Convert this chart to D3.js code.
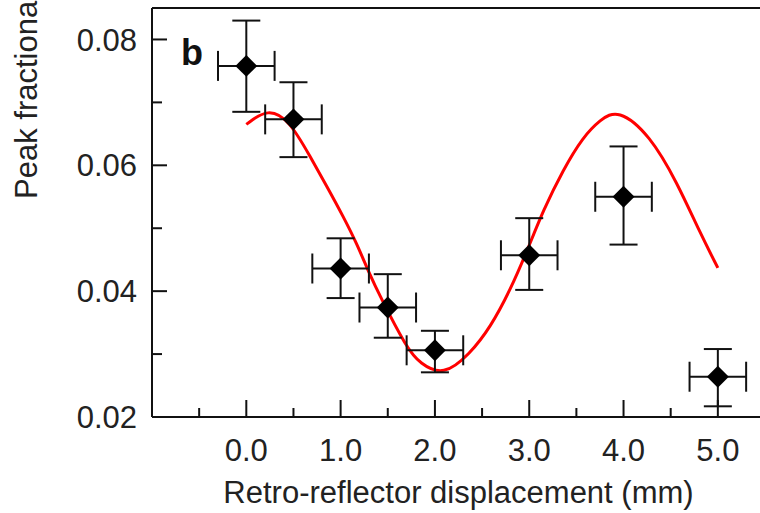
<!DOCTYPE html>
<html>
<head>
<meta charset="utf-8">
<script src="https://cdn.jsdelivr.net/npm/d3@7"></script>
<style>
  body { margin: 0; background: #fff; }
  svg { display: block; font-family: "Liberation Sans", Arial, sans-serif; }
</style>
</head>
<body>
<svg id="chart" width="760" height="513"></svg>
<script>
// measured points (mm, peak fractional value)
var pointX = [0.0, 0.5, 1.0, 1.5, 2.0, 3.0, 4.0, 5.0];
var pointY = [0.0758, 0.0673, 0.0436, 0.0374, 0.0306, 0.0457, 0.0550, 0.0264];
var pointYHi = [0.0830, 0.0732, 0.0484, 0.0427, 0.0337, 0.0516, 0.0630, 0.0308];
var pointYLo = [0.0685, 0.0613, 0.0389, 0.0326, 0.0271, 0.0402, 0.0474, 0.0217];
var pointXErr = [0.3, 0.3, 0.3, 0.3, 0.3, 0.3, 0.3, 0.3];

// red fit curve
var fitX = [0.0, 0.23, 0.46, 0.68, 0.86, 1.03, 1.17, 1.29, 1.42, 1.70, 1.84, 2.09, 2.37, 2.59, 2.80, 2.98, 3.15, 3.36, 3.57, 3.75, 3.94, 4.28, 4.57, 4.81, 5.0];
var fitY = [0.0665, 0.0691, 0.0671, 0.0613, 0.0565, 0.0518, 0.0476, 0.0433, 0.0391, 0.0310, 0.0285, 0.0265, 0.0300, 0.0343, 0.0402, 0.0465, 0.0529, 0.0593, 0.0645, 0.0672, 0.0690, 0.0648, 0.0572, 0.0493, 0.0437];

var xMajor = [0, 1, 2, 3, 4, 5];
var xMinor = [-0.5, 0.5, 1.5, 2.5, 3.5, 4.5];
var yMajor = [0.02, 0.04, 0.06, 0.08];
var yMinor = [0.03, 0.05, 0.07];

function draw() {
  var svg = d3.select('#chart');

  var pl = 152, pr = 765, pt = 8, pb = 417;
  var fs = 31;
  var black = '#111';

  var x = d3.scaleLinear().domain([-1, 5.5]).range([pl, pr]);
  var y = d3.scaleLinear().domain([0.02, 0.085]).range([pb, pt]);

  // frame: left, bottom, top
  svg.append('line').attr('x1', pl).attr('x2', pl).attr('y1', pt).attr('y2', pb)
    .attr('stroke', black).attr('stroke-width', 2);
  svg.append('line').attr('x1', pl).attr('x2', pr).attr('y1', pb).attr('y2', pb)
    .attr('stroke', black).attr('stroke-width', 2);
  svg.append('line').attr('x1', pl).attr('x2', pr).attr('y1', pt).attr('y2', pt)
    .attr('stroke', black).attr('stroke-width', 2);

  // x ticks (pointing inward)
  svg.selectAll('.xmaj').data(xMajor).enter().append('line')
    .attr('x1', function (d) { return x(d); }).attr('x2', function (d) { return x(d); })
    .attr('y1', pb).attr('y2', pb - 17)
    .attr('stroke', black).attr('stroke-width', 2);
  svg.selectAll('.xmin').data(xMinor).enter().append('line')
    .attr('x1', function (d) { return x(d); }).attr('x2', function (d) { return x(d); })
    .attr('y1', pb).attr('y2', pb - 9)
    .attr('stroke', black).attr('stroke-width', 2);
  svg.selectAll('.xlab').data(xMajor).enter().append('text')
    .attr('x', function (d) { return x(d); })
    .attr('y', 461)
    .attr('text-anchor', 'middle')
    .attr('font-size', fs)
    .attr('fill', '#222')
    .text(function (d) { return d3.format('.1f')(d); });

  // y ticks
  svg.selectAll('.ymaj').data(yMajor).enter().append('line')
    .attr('x1', pl).attr('x2', pl + 15)
    .attr('y1', function (d) { return y(d); }).attr('y2', function (d) { return y(d); })
    .attr('stroke', black).attr('stroke-width', 2);
  svg.selectAll('.ymin').data(yMinor).enter().append('line')
    .attr('x1', pl).attr('x2', pl + 10)
    .attr('y1', function (d) { return y(d); }).attr('y2', function (d) { return y(d); })
    .attr('stroke', black).attr('stroke-width', 2);
  svg.selectAll('.ylab').data(yMajor).enter().append('text')
    .attr('x', 137)
    .attr('y', function (d) { return y(d); })
    .attr('dy', '0.36em')
    .attr('text-anchor', 'end')
    .attr('font-size', fs)
    .attr('fill', '#222')
    .text(function (d) { return d3.format('.2f')(d); });

  // axis titles
  svg.append('text')
    .attr('x', (pl + pr) / 2)
    .attr('y', 503)
    .attr('text-anchor', 'middle')
    .attr('font-size', fs)
    .attr('fill', '#222')
    .text('Retro-reflector displacement (mm)');

  svg.append('text')
    .attr('transform', 'translate(37,199) rotate(-90)')
    .attr('font-size', fs)
    .attr('fill', '#222')
    .text('Peak fractiona');

  svg.append('text')
    .attr('x', 181)
    .attr('y', 65)
    .attr('font-size', 36)
    .attr('font-weight', 'bold')
    .attr('fill', black)
    .text('b');

  // fit curve
  var fit = fitX.map(function (d, i) { return [d, fitY[i]]; });
  svg.append('path')
    .datum(fit)
    .attr('fill', 'none')
    .attr('stroke', '#ff0000')
    .attr('stroke-width', 3)
    .attr('d', d3.line()
      .x(function (d) { return x(d[0]); })
      .y(function (d) { return y(d[1]); })
      .curve(d3.curveBasis));

  // error bars and markers
  var pts = pointX.map(function (d, i) {
    return { x: d, y: pointY[i], hi: pointYHi[i], lo: pointYLo[i], xe: pointXErr[i] };
  });

  var g = svg.selectAll('.pt').data(pts).enter().append('g')
    .attr('stroke', black).attr('stroke-width', 2).attr('fill', 'none');

  g.append('line')
    .attr('x1', function (d) { return x(d.x); }).attr('x2', function (d) { return x(d.x); })
    .attr('y1', function (d) { return y(d.hi); }).attr('y2', function (d) { return y(d.lo); });
  g.append('line')
    .attr('x1', function (d) { return x(d.x) - 14; }).attr('x2', function (d) { return x(d.x) + 14; })
    .attr('y1', function (d) { return y(d.hi); }).attr('y2', function (d) { return y(d.hi); });
  g.append('line')
    .attr('x1', function (d) { return x(d.x) - 14; }).attr('x2', function (d) { return x(d.x) + 14; })
    .attr('y1', function (d) { return y(d.lo); }).attr('y2', function (d) { return y(d.lo); });
  g.append('line')
    .attr('x1', function (d) { return x(d.x - d.xe); }).attr('x2', function (d) { return x(d.x + d.xe); })
    .attr('y1', function (d) { return y(d.y); }).attr('y2', function (d) { return y(d.y); });
  g.append('line')
    .attr('x1', function (d) { return x(d.x - d.xe); }).attr('x2', function (d) { return x(d.x - d.xe); })
    .attr('y1', function (d) { return y(d.y) - 15; }).attr('y2', function (d) { return y(d.y) + 15; });
  g.append('line')
    .attr('x1', function (d) { return x(d.x + d.xe); }).attr('x2', function (d) { return x(d.x + d.xe); })
    .attr('y1', function (d) { return y(d.y) - 15; }).attr('y2', function (d) { return y(d.y) + 15; });

  g.append('path')
    .attr('transform', function (d) { return 'translate(' + x(d.x) + ',' + y(d.y) + ') rotate(45)'; })
    .attr('d', d3.symbol(d3.symbolSquare, 240))
    .attr('fill', '#000')
    .attr('stroke', 'none');
}

draw();
</script>
</body>
</html>
